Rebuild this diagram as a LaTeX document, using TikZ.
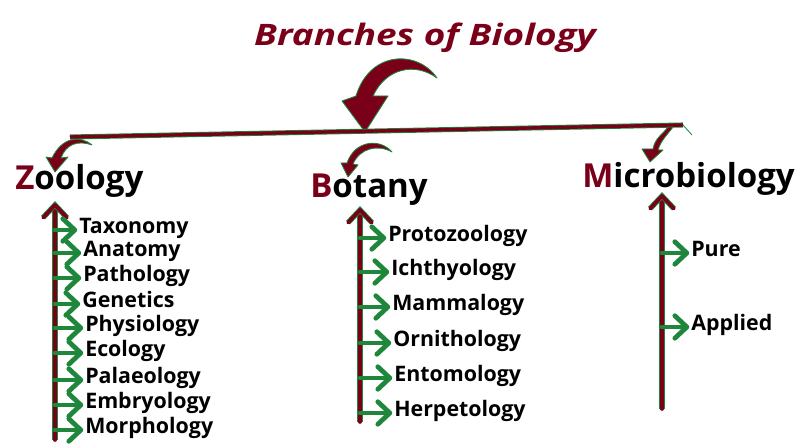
\documentclass[tikz,border=0pt]{standalone}
\usepackage{fontspec}
\setmainfont{Open Sans}
\usetikzlibrary{arrows.meta}
\definecolor{bred}{RGB}{122,0,25}
\definecolor{bgreen}{RGB}{30,135,60}

\tikzset{
  headtext/.style={anchor=base west, inner sep=0, font=\fontsize{23.5}{28}\selectfont\bfseries},
  itemtext/.style={anchor=mid west, inner sep=0, font=\fontsize{15.2}{18}\selectfont\bfseries},
  axisline/.style={draw=bred, line width=2.6pt, line cap=round, line join=round,
    preaction={draw=bgreen, line width=3.8pt}},
  branchline/.style={draw=bgreen, line width=3.4pt, line cap=round, line join=round},
  barline/.style={draw=bred, line width=2.4pt, preaction={draw=bgreen, line width=3.6pt}},
  curlarrow/.style={fill=bred, draw=bgreen, line width=0.6pt, line join=round},
}

\begin{document}
\begin{tikzpicture}[x=0.025cm,y=-0.025cm]
\useasboundingbox (0,0) rectangle (801,445);

% title and the big curl
\node[anchor=base, text=bred, xscale=1.25, font=\fontsize{21}{25}\selectfont\bfseries\itshape] (title) at (425,46) {Branches of Biology};
\draw[curlarrow] (437,78) .. controls (418,50) and (370,50) .. (356,96) -- (342,101) -- (365,132) -- (388,96) -- (373,96) .. controls (386,68) and (415,62) .. (437,78) -- cycle;

% top bar
\coordinate (barL) at (70,137);
\coordinate (barR) at (683,125);
\draw[barline] (barL) -- (barR);
\draw[bgreen, line width=0.6pt] (barR) -- (692,135);

% curls down to the three branches
\draw[curlarrow] (92,145) .. controls (80,135) and (62,137) .. (52,158) -- (46,157) -- (55,172) -- (68,157) -- (61,158) .. controls (66,144) and (78,140) .. (92,145) -- cycle;
\draw[curlarrow] (392,152) .. controls (380,138) and (355,140) .. (347,163) -- (341,163) -- (348,177) -- (358,165) -- (353,164) .. controls (360,148) and (378,144) .. (392,152) -- cycle;
\draw[curlarrow] (668,127) .. controls (662,135) and (655,138) .. (653,149) -- (642,149) -- (650,162) -- (663,150) -- (658,150) .. controls (661,140) and (668,134) .. (673,127) -- cycle;

% branch names
\node[headtext] (zoo) at (15,190) {{\color{bred}Z}oology};
\node[headtext] (bot) at (310,198) {{\color{bred}B}otany};
\node[headtext] (mic) at (582,188) {{\color{bred}M}icrobiology};

% vertical axes with open heads
\coordinate (zbot) at (55,440);
\coordinate (ztop) at (55,205);
\coordinate (bbot) at (360,422);
\coordinate (btop) at (360,210);
\coordinate (mbot) at (662,409);
\coordinate (mtop) at (662,196);
\foreach \t/\b in {ztop/zbot, btop/bbot, mtop/mbot}{
  \draw[axisline] (\b) -- (\t);
  \draw[axisline] ([xshift=-8.5pt,yshift=-9pt]\t) -- (\t) -- ([xshift=8.5pt,yshift=-9pt]\t);
}

% zoology
\foreach \lbl/\y/\x [count=\i] in {Taxonomy/230/79, Anatomy/253/83, Pathology/278/83,
  Genetics/304/82, Physiology/328/85, Ecology/353/85, Palaeology/380/85,
  Embryology/405/85, Morphology/430/85}{
  \node[itemtext] (z\i) at (\x,\y) {\lbl};
  \coordinate (ze\i) at ([xshift=-3pt]z\i.mid west);
  \draw[branchline] (z\i.mid west -| zbot) -- (ze\i);
  \draw[branchline] ([xshift=-8.5pt,yshift=8pt]ze\i) -- (ze\i) -- ([xshift=-8.5pt,yshift=-8pt]ze\i);
}

% botany
\foreach \lbl/\y/\x [count=\i] in {Protozoology/238/388, Ichthyology/272/391,
  Mammalogy/307/392, Ornithology/343/393, Entomology/378/394, Herpetology/413/394}{
  \node[itemtext] (b\i) at (\x,\y) {\lbl};
  \coordinate (be\i) at ([xshift=-3pt]b\i.mid west);
  \draw[branchline] (b\i.mid west -| bbot) -- (be\i);
  \draw[branchline] ([xshift=-8.5pt,yshift=8pt]be\i) -- (be\i) -- ([xshift=-8.5pt,yshift=-8pt]be\i);
}

% microbiology
\foreach \lbl/\y [count=\i] in {Pure/253, Applied/327}{
  \node[itemtext] (m\i) at (691,\y) {\lbl};
  \coordinate (me\i) at ([xshift=-3pt]m\i.mid west);
  \draw[branchline] (m\i.mid west -| mbot) -- (me\i);
  \draw[branchline] ([xshift=-8.5pt,yshift=8pt]me\i) -- (me\i) -- ([xshift=-8.5pt,yshift=-8pt]me\i);
}
\end{tikzpicture}
\end{document}
